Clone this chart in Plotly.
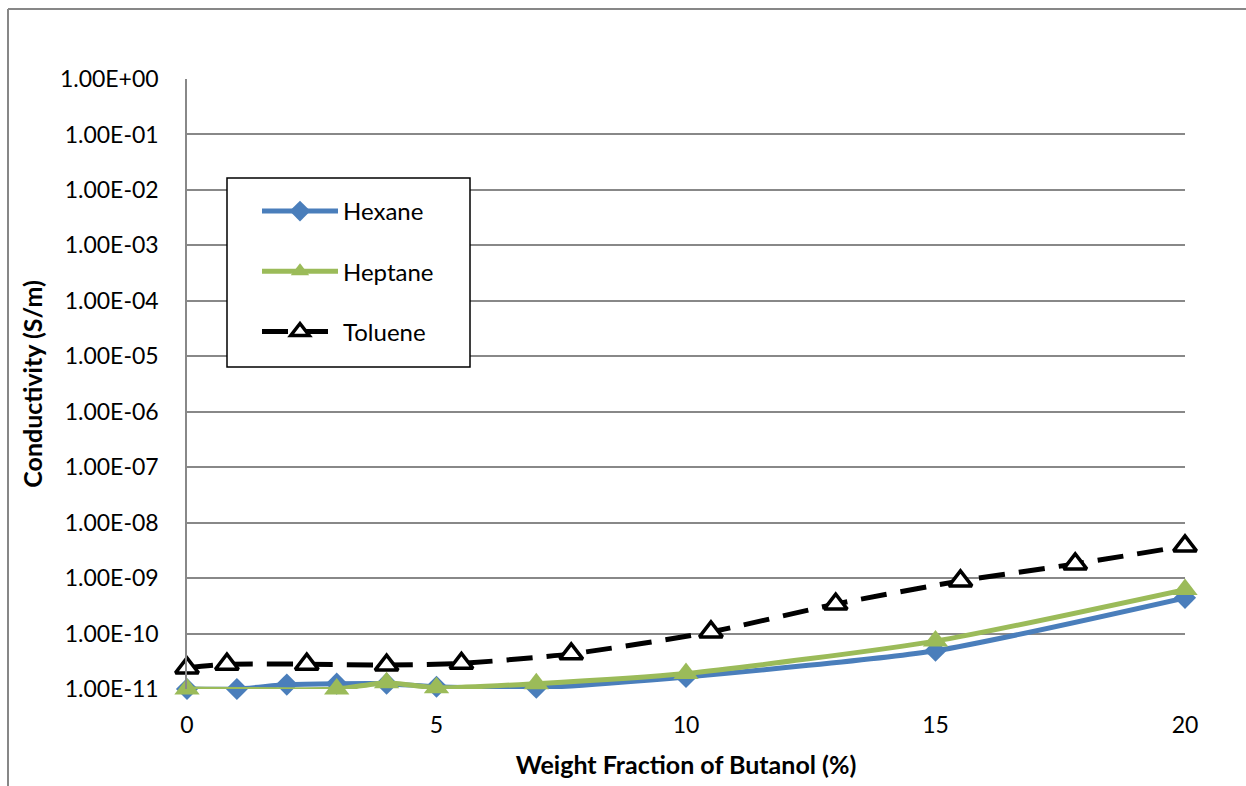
import plotly.graph_objects as go

# ---- data ----
hexane_x = [0, 1, 2, 3, 4, 5, 7, 10, 15, 20]
hexane_y = [1.0e-11, 1.0e-11, 1.2e-11, 1.25e-11, 1.25e-11, 1.1e-11, 1.05e-11, 1.65e-11, 4.9e-11, 4.4e-10]

heptane_x = [0, 3, 4, 5, 7, 10, 15, 20]
heptane_y = [1.0e-11, 1.0e-11, 1.3e-11, 1.05e-11, 1.25e-11, 1.9e-11, 7.3e-11, 6.2e-10]

toluene_x = [0, 0.8, 2.4, 4, 5.5, 7.7, 10.5, 13, 15.5, 17.8, 20]
toluene_y = [2.4e-11, 2.8e-11, 2.8e-11, 2.7e-11, 2.9e-11, 4.3e-11, 1.07e-10, 3.4e-10, 8.9e-10, 1.8e-9, 3.8e-9]

x_ticks = [0, 5, 10, 15, 20]
y_exponents = list(range(-11, 1))
y_tick_vals = [10.0 ** e for e in y_exponents]
y_tick_text = ["1.00E" + ("+" if e >= 0 else "-") + "%02d" % abs(e) for e in y_exponents]

FONT = "Lato"
W, H = 1246, 786
L, R, T, B = 187, 61, 79, 97
pw, ph = W - L - R, H - T - B

def px_x(p):
    return (p - L) / pw

def px_y(p):
    return (H - B - p) / ph

fig = go.Figure()
fig.add_trace(go.Scatter(
    x=hexane_x, y=hexane_y, name="Hexane", mode="lines+markers",
    line=dict(color="#4a7ebb", width=5, shape="spline", smoothing=0.6),
    marker=dict(symbol="diamond", size=17, color="#4a7ebb"),
    cliponaxis=False, legendgroup="a"))
fig.add_trace(go.Scatter(
    x=heptane_x, y=heptane_y, name="Heptane", mode="lines+markers",
    line=dict(color="#9bbb59", width=5, shape="spline", smoothing=0.6),
    marker=dict(symbol="triangle-up", size=22, color="#9bbb59"),
    cliponaxis=False, legendgroup="b"))
fig.add_trace(go.Scatter(
    x=toluene_x, y=toluene_y, name="Toluene", mode="lines+markers",
    line=dict(color="black", width=5, dash="26px,14px", shape="spline", smoothing=0.6),
    marker=dict(symbol="triangle-up", size=20, color="white",
                line=dict(color="black", width=3.5)),
    cliponaxis=False, legendgroup="c"))

fig.update_layout(
    width=W, height=H,
    margin=dict(l=L, r=R, t=T, b=B),
    paper_bgcolor="white", plot_bgcolor="white",
    font=dict(family=FONT, size=23, color="black"),
    showlegend=True,
    legend=dict(
        x=px_x(257), y=px_y(189), xanchor="left", yanchor="top",
        bgcolor="rgba(0,0,0,0)", borderwidth=0,
        font=dict(family=FONT, size=24, color="black"),
        tracegroupgap=26, traceorder="grouped",
        itemwidth=76,
    ),
    xaxis=dict(
        range=[0, 20], tickvals=x_ticks, showgrid=False, zeroline=False,
        showline=False, ticks="", ticklabelstandoff=20,
        tickfont=dict(family=FONT, size=23, color="black"),
        title=dict(text="<b>Weight Fraction of Butanol (%)</b>", standoff=19,
                   font=dict(family=FONT, size=25, color="black")),
    ),
    yaxis=dict(
        type="log", range=[-11, 0], tickvals=y_tick_vals, ticktext=y_tick_text,
        showgrid=True, gridcolor="#888888", gridwidth=1.5,
        showline=True, linecolor="#888888", linewidth=1.5,
        zeroline=False, ticks="", ticklabelstandoff=22,
        tickfont=dict(family=FONT, size=23, color="black"),
        title=dict(text="<b>Conductivity (S/m)</b>", standoff=10,
                   font=dict(family=FONT, size=25, color="black")),
    ),
    shapes=[
        dict(type="line", xref="paper", yref="paper",
             x0=px_x(8), x1=px_x(1260), y0=px_y(9), y1=px_y(9),
             line=dict(color="#878787", width=2)),
        dict(type="line", xref="paper", yref="paper",
             x0=px_x(8), x1=px_x(8), y0=px_y(9), y1=px_y(800),
             line=dict(color="#878787", width=2)),
        dict(type="rect", xref="paper", yref="paper", layer="above",
             x0=px_x(227), x1=px_x(470), y0=px_y(178), y1=px_y(367),
             fillcolor="white", line=dict(color="black", width=1.5)),
    ],
)

fig.write_html("out.html")
